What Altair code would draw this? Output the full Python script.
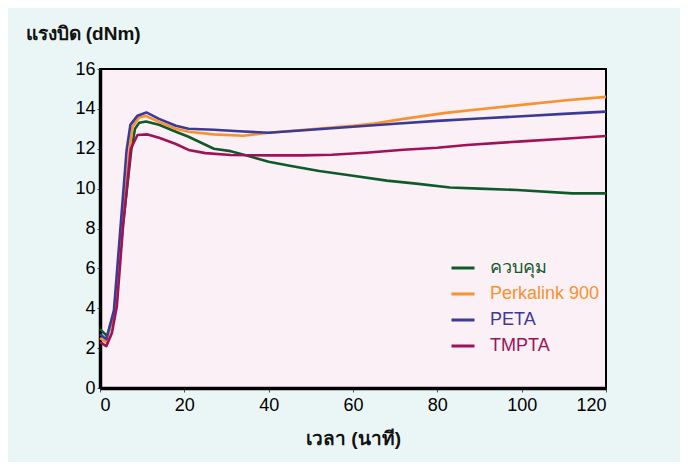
import altair as alt
import pandas as pd

series_names = ["ควบคุม", "Perkalink 900", "PETA", "TMPTA"]
series_colors = ["#0f5a2c", "#f7922f", "#3b3a96", "#a01257"]

control_x = [0, 1.7, 3.4, 5.5, 7.4, 8.3, 9.3, 10.9, 14, 18, 21, 24, 27, 31, 35, 40, 45, 52, 60, 68, 75, 83, 90, 99, 112, 120]
control_y = [2.95, 2.6, 3.8, 8.3, 11.9, 13.0, 13.3, 13.37, 13.2, 12.85, 12.6, 12.3, 12.0, 11.88, 11.65, 11.35, 11.15, 10.88, 10.65, 10.4, 10.25, 10.06, 10.0, 9.93, 9.76, 9.76]

perk_x = [0, 1.5, 3.4, 5.2, 7.0, 7.7, 9.3, 10.9, 14, 18, 21, 27, 34, 40, 50, 60, 65, 72, 82, 90, 100, 110, 120]
perk_y = [2.5, 2.3, 3.9, 8.0, 11.9, 13.1, 13.57, 13.64, 13.35, 13.0, 12.85, 12.72, 12.65, 12.8, 12.98, 13.15, 13.27, 13.5, 13.8, 13.98, 14.2, 14.42, 14.6]

peta_x = [0, 1.5, 3.3, 4.8, 6.3, 7.2, 8.9, 11, 14, 18, 21, 27, 33, 40, 50, 60, 70, 80, 90, 100, 110, 120]
peta_y = [2.7, 2.45, 3.9, 7.9, 11.9, 13.2, 13.66, 13.82, 13.5, 13.15, 13.0, 12.95, 12.88, 12.8, 12.95, 13.1, 13.25, 13.4, 13.52, 13.63, 13.75, 13.86]

tmpta_x = [0, 1.5, 2.8, 4.0, 5.5, 7.3, 8.9, 11.3, 14, 18, 21, 25, 31, 40, 48, 55, 63, 72, 80, 87, 100, 110, 120]
tmpta_y = [2.3, 2.1, 2.75, 4.1, 8.2, 12.0, 12.69, 12.72, 12.55, 12.24, 11.94, 11.78, 11.69, 11.67, 11.67, 11.7, 11.8, 11.95, 12.05, 12.19, 12.37, 12.5, 12.64]

x_ticks = [0, 20, 40, 60, 80, 100, 120]
y_ticks = [0, 2, 4, 6, 8, 10, 12, 14, 16]

rows = []
for name, xs, ys in zip(series_names, [control_x, perk_x, peta_x, tmpta_x], [control_y, perk_y, peta_y, tmpta_y]):
    for i, (a, b) in enumerate(zip(xs, ys)):
        rows.append({"series": name, "t": a, "torque": b, "order": i})
df = pd.DataFrame(rows)

color_expr = " : ".join(
    f"datum.value == '{n}' ? '{c}'" for n, c in zip(series_names[:-1], series_colors[:-1])
) + f" : '{series_colors[-1]}'"

chart = alt.Chart(df).mark_line(strokeWidth=2.6, strokeJoin="round").encode(
    x=alt.X("t:Q", scale=alt.Scale(domain=[0, 120], nice=False),
            axis=alt.Axis(values=x_ticks, title="เวลา (นาที)", grid=False,
                          titleY=50, titleBaseline="middle")),
    y=alt.Y("torque:Q", scale=alt.Scale(domain=[0, 16], nice=False),
            axis=alt.Axis(values=y_ticks, title="แรงบิด (dNm)", grid=False,
                          titleAngle=0, titleAlign="left", titleBaseline="middle",
                          titleX=-75, titleY=-36, labelPadding=2, tickSize=3)),
    color=alt.Color("series:N", scale=alt.Scale(domain=series_names, range=series_colors),
                    legend=alt.Legend(title=None, orient="none", legendX=350, legendY=186,
                                      symbolType="stroke", symbolSize=529, symbolStrokeWidth=3,
                                      labelFontSize=18, labelOffset=14, rowPadding=4,
                                      labelColor=alt.ExprRef(color_expr),
                                      labelFont="Liberation Sans")),
    order="order:Q",
).properties(
    width=506, height=319,
    background="#eaf6f6",
    padding={"left": 92, "top": 61, "right": 74, "bottom": 74},
    autosize=alt.AutoSizeParams(type="none"),
).configure_view(
    fill="#fbf0f6", stroke="black", strokeWidth=2,
).configure_axis(
    domainColor="black", domainWidth=3.5,
    tickColor="#555555", tickSize=4, tickWidth=1,
    labelColor="black", labelFontSize=18, labelFont="Liberation Sans",
    titleColor="#111111", titleFontSize=19, titleFontWeight="bold",
    titleFont="Liberation Sans", labelPadding=4,
)

chart.save("out.html", embed_options={"renderer": "svg", "actions": False})
